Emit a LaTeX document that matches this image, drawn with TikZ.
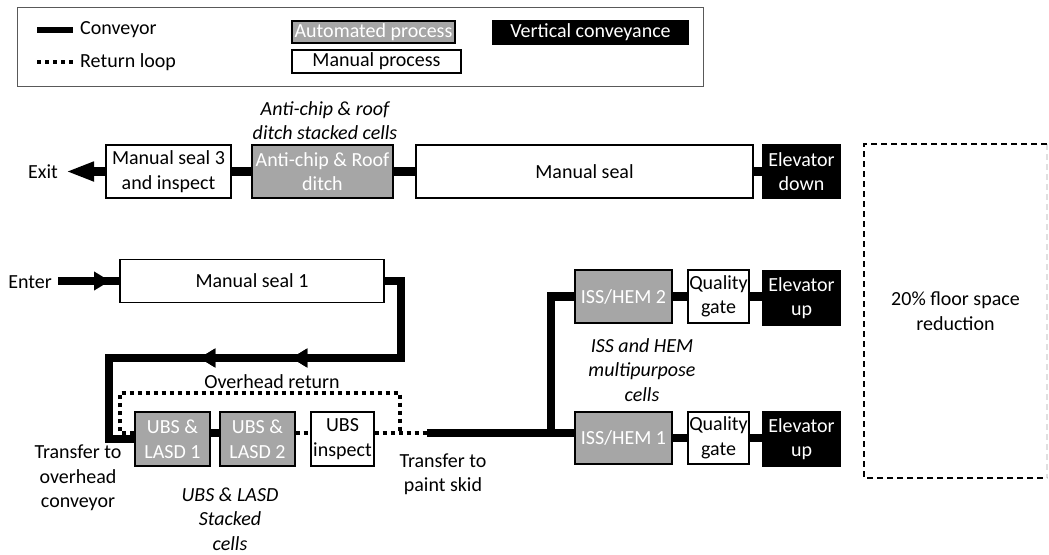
\documentclass[tikz,border=0pt]{standalone}
\usepackage{fontspec}
\setmainfont{Carlito}
\usetikzlibrary{arrows.meta,decorations.markings,calc}
\definecolor{autogray}{HTML}{A6A6A6}
\begin{document}
\begin{tikzpicture}[x=1pt,y=-1pt,
  txt/.style={font=\fontsize{20}{24.5}\selectfont,align=center,inner sep=0pt},
  itxt/.style={font=\fontsize{20}{24.5}\selectfont\itshape,align=center,inner sep=0pt},
  box/.style={txt,draw=black,line width=1.3pt,minimum height=53pt},
  manual/.style={box,fill=white},
  auto/.style={box,fill=autogray,text=white},
  vert/.style={box,fill=black,text=white},
  conv/.style={line width=8.5pt},
  ret/.style={line width=3.6pt,dash pattern=on 4pt off 4pt},
  fdash/.style={line width=1.1pt,dash pattern=on 6pt off 4pt},
  midtip/.style={postaction={decorate},decoration={markings,
    mark=at position #1 with {\arrow{Triangle[length=16pt,width=18pt]}}}},
]
\useasboundingbox (0,0) rectangle (1049,554);

% ---------- legend ----------
\node[draw=black!65,line width=0.9pt,minimum width=686pt,minimum height=79pt,inner sep=0pt]
  (legend) at (360,46.5) {};
\coordinate (lc1) at (37,30);
\coordinate (lc2) at (73,30);
\coordinate (lr1) at (37,62);
\coordinate (lr2) at (73,62);
\draw[line width=6pt] (lc1) -- (lc2);
\draw[ret] (lr1) -- (lr2);
\node[txt,anchor=west] (lconv) at (80,30) {Conveyor};
\node[txt,anchor=west] (lret) at (80,62) {Return loop};
\node[auto,minimum width=163pt,minimum height=22pt] (lauto) at (373.5,32) {Automated process};
\node[manual,minimum width=169pt,minimum height=23pt] (lman) at (376.5,61.5) {Manual process};
\node[vert,minimum width=195pt,minimum height=23pt] (lvert) at (590.5,32.5) {Vertical conveyance};

% ---------- upper line ----------
\node[manual,minimum width=125pt] (ms3) at (168.5,171.5) {Manual seal 3\\and inspect};
\node[auto,minimum width=141pt] (anti) at (322.5,171.5) {Anti-chip \& Roof\\ditch};
\node[manual,minimum width=337pt] (mseal) at (584.5,171.5) {Manual seal};
\node[vert,minimum width=77pt,minimum height=54pt] (eldown) at (801.5,171.5) {Elevator\\down};
\node[txt] (exit) at (43,172) {Exit};
\node[itxt] (antilbl) at (325,120.5) {Anti-chip \& roof\\ditch stacked cells};
\coordinate (exitend) at (66,171.5);

\draw[conv] (mseal.east) -- (eldown.west);
\draw[conv] (anti.east) -- (mseal.west);
\draw[conv] (ms3.east) -- (anti.west);
\draw[conv,-{Triangle[length=28pt,width=18pt]}] (ms3.west) -- (exitend);

% ---------- entry and first seal ----------
\node[manual,minimum width=264pt,minimum height=43pt] (ms1) at (252,281) {Manual seal 1};
\node[txt] (enter) at (30,282) {Enter};
\coordinate (enterstart) at (58,281);
\draw[conv,midtip=52pt] (enterstart) -- (ms1.west);

% ---------- UBS & LASD cells ----------
\node[auto,minimum width=75pt,minimum height=54pt] (lasd1) at (172.5,439) {UBS \&\\LASD 1};
\node[auto,minimum width=75pt,minimum height=54pt] (lasd2) at (257.5,439) {UBS \&\\LASD 2};
\node[manual,minimum width=63pt,minimum height=54pt] (ubsi) at (342.5,439) {UBS\\inspect};

\coordinate (c1) at (401,281);
\coordinate (c2) at (401,358);
\coordinate (c3) at (109,358);
\draw[conv,line join=miter,midtip=203pt,
  postaction={decorate},decoration={markings,
    mark=at position 295pt with {\arrow{Triangle[length=16pt,width=18pt]}}}]
  (ms1.east) -- (c1) -- (c2) -- (c3) |- (lasd1.west);

\coordinate (lvl) at (0,433);
\coordinate (skid) at (427,433);
\coordinate (ol1) at (120,393);
\coordinate (ol2) at (400,393);
\draw[conv] (lasd1.east |- lvl) -- (lasd2.west |- lvl);
\draw[ret] (lasd2.east |- lvl) -- (ubsi.west |- lvl);
\draw[ret] (ubsi.east |- lvl) -- (skid);
\draw[ret] (lasd1.west |- lvl) -| (ol1) -- (ol2) -- (ol2 |- lvl);

\node[txt] (ohret) at (272,382) {Overhead return};
\node[txt] (tover) at (78,478) {Transfer to\\overhead\\conveyor};
\node[itxt] (ubslbl) at (230,519) {UBS \& LASD\\Stacked\\cells};
\node[txt] (tskid) at (443,474) {Transfer to\\paint skid};

% ---------- ISS / HEM cells ----------
\node[auto,minimum width=97pt] (hem2) at (623.5,296.5) {ISS/HEM 2};
\node[auto,minimum width=97pt,minimum height=52pt] (hem1) at (623.5,438) {ISS/HEM 1};
\node[manual,minimum width=61pt] (qg2) at (718.5,296.5) {Quality\\gate};
\node[manual,minimum width=61pt,minimum height=52pt] (qg1) at (718.5,438) {Quality\\gate};
\node[vert,minimum width=77pt,minimum height=54pt] (elup2) at (801.5,298) {Elevator\\up};
\node[vert,minimum width=77pt,minimum height=54pt] (elup1) at (801.5,439) {Elevator\\up};
\node[itxt] (hemlbl) at (642,370) {ISS and HEM\\multipurpose\\cells};

\coordinate (jn) at (551,433);
\draw[conv] (skid) -- (hem1.west |- skid);
\draw[conv,line join=miter] (jn) |- (hem2.west);
\draw[conv] (hem2.east) -- (qg2.west);
\draw[conv] (hem1.east) -- (qg1.west);
\draw[conv] (qg2.east) -- (qg2.east -| elup2.west);
\draw[conv] (qg1.east) -- (qg1.east -| elup1.west);

% ---------- freed floor area ----------
\coordinate (fa) at (864,144);
\coordinate (fb) at (1047,144);
\coordinate (fc) at (1047,478);
\coordinate (fd) at (864,478);
\draw[fdash,black!12] (fb) -- (fc);
\draw[fdash] (fb) -- (fa) -- (fd) -- (fc);
\node[txt] (floor) at (955.5,311) {20\% floor space\\reduction};
\end{tikzpicture}
\end{document}
